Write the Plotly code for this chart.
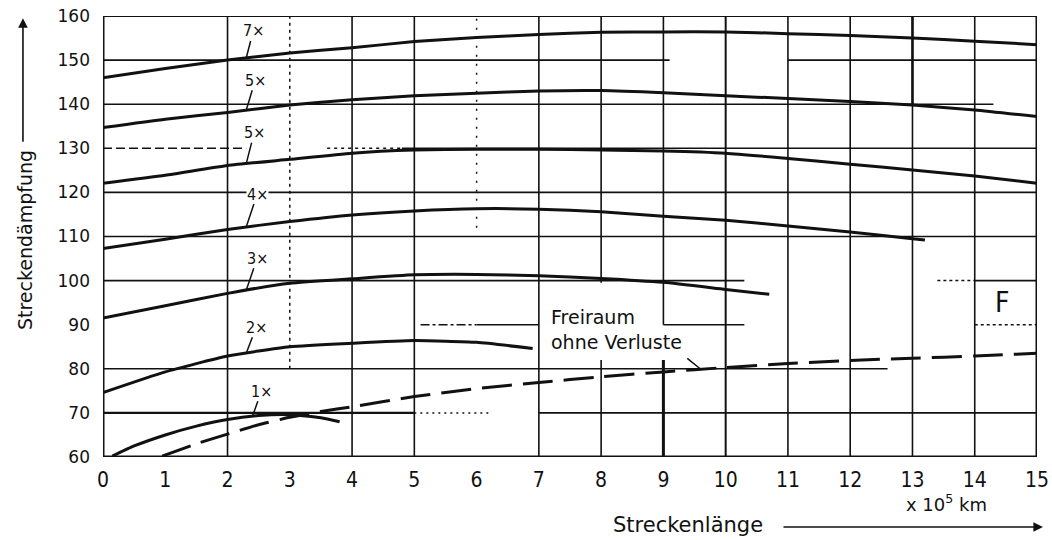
import numpy as np
import plotly.graph_objects as go

# Axis ticks
x_ticks = list(range(0, 16))
x_ticktext = [str(v) for v in x_ticks]
y_ticks = list(range(60, 161, 10))
y_ticktext = [str(v) for v in y_ticks]

# Streckendämpfung for each multiplier (x in 10^5 km, y in dB)
x_7 = [0, 1, 2, 3, 4, 5, 6, 7, 8, 9, 10, 11, 12, 13, 14, 15]
y_7 = [146.0, 148.1, 150.0, 151.6, 152.8, 154.2, 155.1, 155.8, 156.3, 156.4, 156.4, 156.0, 155.6, 155.0, 154.3, 153.5]

x_6 = [0, 1, 2, 3, 4, 5, 6, 7, 8, 9, 10, 11, 12, 13, 14, 15]
y_6 = [134.7, 136.6, 138.1, 139.8, 141.0, 141.9, 142.5, 143.0, 143.1, 142.6, 141.9, 141.3, 140.6, 139.8, 138.7, 137.2]

x_5 = [0, 1, 2, 3, 4, 5, 6, 7, 8, 9, 10, 11, 12, 13, 14, 15]
y_5 = [122.1, 123.9, 126.1, 127.5, 128.9, 129.6, 129.8, 129.8, 129.6, 129.4, 128.9, 127.7, 126.4, 125.1, 123.7, 122.1]

x_4 = [0, 1, 2, 3, 4, 5, 6, 7, 8, 9, 10, 11, 12, 13, 13.2]
y_4 = [107.3, 109.4, 111.6, 113.4, 114.9, 115.8, 116.3, 116.2, 115.6, 114.6, 113.7, 112.4, 111.0, 109.5, 109.2]

x_3 = [0, 1, 2, 3, 4, 5, 6, 7, 8, 9, 10, 10.7]
y_3 = [91.5, 94.3, 97.1, 99.4, 100.4, 101.3, 101.4, 101.1, 100.5, 99.6, 98.0, 96.9]

x_2 = [0, 1, 2, 3, 4, 5, 6, 6.9]
y_2 = [74.6, 79.3, 82.9, 85.0, 85.8, 86.4, 86.0, 84.6]

x_1 = [0.15, 0.5, 1, 1.5, 2, 2.5, 3, 3.5, 3.8]
y_1 = [60.2, 62.5, 65.0, 67.0, 68.5, 69.4, 69.6, 68.9, 68.0]

# Freiraum ohne Verluste
x_free = [0.95, 1.5, 2, 2.5, 3, 3.5, 4, 5, 6, 7, 8, 9, 10, 11, 12, 13, 14, 15]
y_free = [60.2, 63.0, 65.2, 67.3, 69.0, 70.3, 71.4, 73.7, 75.5, 76.9, 78.2, 79.3, 80.3, 81.2, 81.9, 82.4, 82.9, 83.5]

curve_labels = ["7×", "5×", "5×", "4×", "3×", "2×", "1×"]
curves = [(x_7, y_7), (x_6, y_6), (x_5, y_5), (x_4, y_4), (x_3, y_3), (x_2, y_2), (x_1, y_1)]

FONT_C = "DejaVu Sans Condensed, Liberation Sans Narrow, DejaVu Sans, sans-serif"
FONT_R = "DejaVu Sans, Verdana, sans-serif"
INK = "#111111"

fig = go.Figure()

for (xs, ys), name in zip(curves, curve_labels):
    fig.add_trace(go.Scatter(x=xs, y=ys, mode="lines", name=name,
                             line=dict(color=INK, width=3, shape="spline", smoothing=0.5),
                             hoverinfo="skip", showlegend=False))

fig.add_trace(go.Scatter(x=x_free, y=y_free, mode="lines", name="Freiraum ohne Verluste",
                         line=dict(color=INK, width=3, dash="30px,11px", shape="spline", smoothing=0.5),
                         hoverinfo="skip", showlegend=False))

# Grid drawn segment by segment, as on the printed sheet
shapes = []


def vseg(x, y0, y1, width=1.6, dash="solid"):
    shapes.append(dict(type="line", xref="x", yref="y", x0=x, x1=x, y0=y0, y1=y1,
                       line=dict(color=INK, width=width, dash=dash), layer="below"))


def hseg(y, x0, x1, width=1.6, dash="solid"):
    shapes.append(dict(type="line", xref="x", yref="y", x0=x0, x1=x1, y0=y, y1=y,
                       line=dict(color=INK, width=width, dash=dash), layer="below"))


vseg(2, 60, 160)
vseg(3, 80, 160, 1.5, "3px,4px")
vseg(4, 60, 160)
vseg(5, 60, 160)
vseg(6, 112, 160, 1.5, "2px,7px")
vseg(7, 60, 160)
vseg(8, 60, 82)
vseg(8, 99.5, 160)
vseg(9, 60, 82, 3)
vseg(9, 90, 160)
vseg(10, 60, 160, 2)
vseg(11, 60, 160)
vseg(12, 60, 160)
vseg(13, 60, 160)
vseg(13, 140, 160, 2.5)
vseg(14, 60, 160)

hseg(150, 0, 9.1)
hseg(150, 11, 15)
hseg(140, 0, 14.3)
hseg(130, 0, 2.3, 1.5, "9px,4px")
hseg(130, 3.6, 4.8, 1.5, "3px,4px")
hseg(130, 4.8, 15)
hseg(120, 0, 15)
hseg(110, 0, 15)
hseg(100, 0, 10.3)
hseg(100, 13.4, 14, 1.5, "3px,3px")
hseg(100, 14, 15)
hseg(90, 5.1, 6, 1.5, "dashdot")
hseg(90, 6, 7)
hseg(90, 9, 10.3)
hseg(90, 14, 15, 1.5, "3px,3px")
hseg(80, 0, 12.6)
hseg(70, 0, 5, 2.2)
hseg(70, 5, 6.2, 1.5, "2px,4px")
hseg(70, 7, 15, 1.8)

# Frame
vseg(0, 60, 160, 3)
vseg(15, 60, 160, 3)
hseg(60, 0, 15, 3)
hseg(160, 0, 15, 2)

annotations = []

# Multiplier labels with short leader strokes down to their curves
label_x = [2.3, 2.3, 2.3, 2.3, 2.3, 2.3, 2.4]
label_off = [(7, -27), (9, -30), (8, -31), (11, -33), (11, -32), (10, -26), (9, -25)]
for (xs, ys), name, lx, (ax, ay) in zip(curves, curve_labels, label_x, label_off):
    annotations.append(dict(x=lx, y=float(np.interp(lx, xs, ys)), xref="x", yref="y",
                            text=name, showarrow=True, arrowhead=0, arrowwidth=1.5,
                            arrowcolor=INK, ax=ax, ay=ay, standoff=0,
                            font=dict(family=FONT_C, size=16, color=INK), bgcolor="white",
                            borderpad=0))

annotations.append(dict(x=7.17, y=89.0, xref="x", yref="y", xanchor="left", yanchor="middle",
                        text="Freiraum<br>ohne Verluste", showarrow=False, align="left",
                        font=dict(family=FONT_R, size=19, color=INK)))
annotations.append(dict(x=9.6, y=float(np.interp(9.6, x_free, y_free)), xref="x", yref="y",
                        text="", showarrow=True, arrowhead=0, arrowwidth=1.5, arrowcolor=INK,
                        ax=-15, ay=-12))

annotations.append(dict(x=14.45, y=95.1, xref="x", yref="y", text="F", showarrow=False,
                        xanchor="center", yanchor="middle",
                        font=dict(family=FONT_C, size=28, color=INK)))

# Axis titles with their arrows
annotations.append(dict(x=-0.0835, y=0.492, xref="paper", yref="paper", text="Streckendämpfung",
                        xanchor="center", yanchor="middle", textangle=-90, showarrow=False,
                        font=dict(family=FONT_R, size=19, color=INK)))
annotations.append(dict(x=-0.0857, y=0.995, xref="paper", yref="paper", text="",
                        showarrow=True, arrowhead=2, arrowsize=1.2, arrowwidth=1.6,
                        arrowcolor=INK, ax=0, ay=125))
annotations.append(dict(x=0.626, y=-0.154, xref="paper", yref="paper", text="Streckenlänge",
                        xanchor="center", yanchor="middle", showarrow=False,
                        font=dict(family=FONT_R, size=21, color=INK)))
annotations.append(dict(x=1.0064, y=-0.1587, xref="paper", yref="paper", text="",
                        showarrow=True, arrowhead=2, arrowsize=1.2, arrowwidth=1.6,
                        arrowcolor=INK, ax=-261, ay=0))
annotations.append(dict(x=0.9026, y=-0.104, xref="paper", yref="paper",
                        text="x 10<sup>5</sup> km", xanchor="center", yanchor="middle",
                        showarrow=False, font=dict(family=FONT_R, size=18, color=INK)))

fig.update_layout(
    width=1052, height=540,
    margin=dict(l=103, r=15, t=16, b=83, autoexpand=False),
    paper_bgcolor="white", plot_bgcolor="white",
    shapes=shapes, annotations=annotations,
    xaxis=dict(range=[0, 15], tickvals=x_ticks, ticktext=x_ticktext, showgrid=False,
               zeroline=False, showline=False, ticks="", ticklabelstandoff=8, automargin=False,
               tickfont=dict(family=FONT_C, size=21, color=INK)),
    yaxis=dict(range=[60, 160], tickvals=y_ticks, ticktext=y_ticktext, showgrid=False,
               zeroline=False, showline=False, ticks="", ticklabelstandoff=12, automargin=False,
               tickfont=dict(family=FONT_R, size=17, color=INK)),
)

fig.write_html("out.html")
